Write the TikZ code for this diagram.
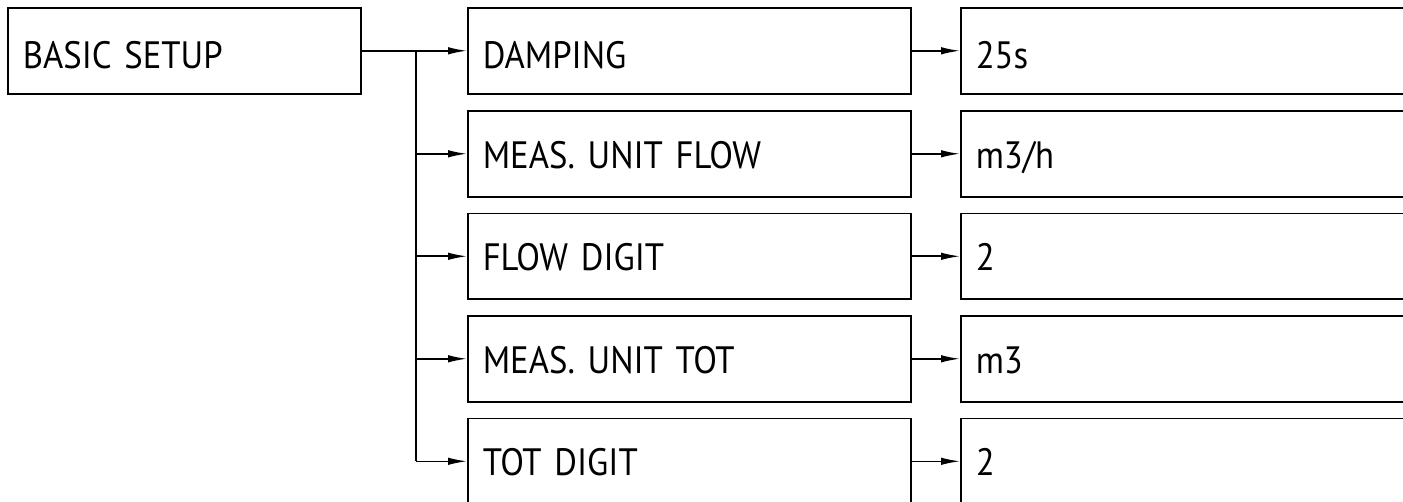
\documentclass[tikz,border=0pt]{standalone}
\usepackage{fontspec}
\setmainfont[FakeStretch=0.91, WordSpace=0.85]{PT Sans}
\usetikzlibrary{arrows.meta,positioning}
\tikzset{
  link/.style={-{Latex[length=3.8mm,width=1.5mm]}, line width=0.9pt},
  trunk/.style={line width=0.9pt},
  menubox/.style={draw, line width=0.9pt, anchor=north west, inner xsep=0.3cm, inner ysep=0pt,
    minimum height=1.72cm, align=left, text height=0.57cm, text depth=0pt,
    font=\fontsize{21.7pt}{26pt}\selectfont},
  toprow/.style={text height=0.72cm},
  topbox/.style={menubox, text width=7.06cm-0.6cm},
  itembox/.style={menubox, text width=8.86cm-0.6cm},
  valuebox/.style={menubox, text width=9.6cm-0.6cm}
}
\begin{document}
\begin{tikzpicture}[x=0.02cm, y=-0.02cm]
  \clip (0,0) rectangle (1403,501);
  \node[topbox, toprow] (setup) at (7,7) {BASIC SETUP};
  % menu entries
  \node[itembox, toprow] (damp) at (467,7) {DAMPING};
  \node[itembox] (flowunit) at (467,110) {MEAS. UNIT FLOW};
  \node[itembox] (flowdig) at (467,212.5) {FLOW DIGIT};
  \node[itembox] (totunit) at (467,315) {MEAS. UNIT TOT};
  \node[itembox] (totdig) at (467,417.5) {TOT DIGIT};
  % values
  \node[valuebox, toprow] (dampval) at (960,7) {25s};
  \node[valuebox] (flowunitval) at (960,110) {m3/h};
  \node[valuebox] (flowdigval) at (960,212.5) {2};
  \node[valuebox] (totunitval) at (960,315) {m3};
  \node[valuebox] (totdigval) at (960,417.5) {2};
  % tree
  \coordinate (split) at (416,50);
  \draw[link] (setup.east) -- (damp.west);
  \draw[trunk] (split) -- (split |- totdig.west);
  \draw[link] (split |- flowunit.west) -- (flowunit.west);
  \draw[link] (split |- flowdig.west) -- (flowdig.west);
  \draw[link] (split |- totunit.west) -- (totunit.west);
  \draw[link] (split |- totdig.west) -- (totdig.west);
  \draw[link] (damp.east) -- (dampval.west);
  \draw[link] (flowunit.east) -- (flowunitval.west);
  \draw[link] (flowdig.east) -- (flowdigval.west);
  \draw[link] (totunit.east) -- (totunitval.west);
  \draw[link] (totdig.east) -- (totdigval.west);
\end{tikzpicture}
\end{document}
